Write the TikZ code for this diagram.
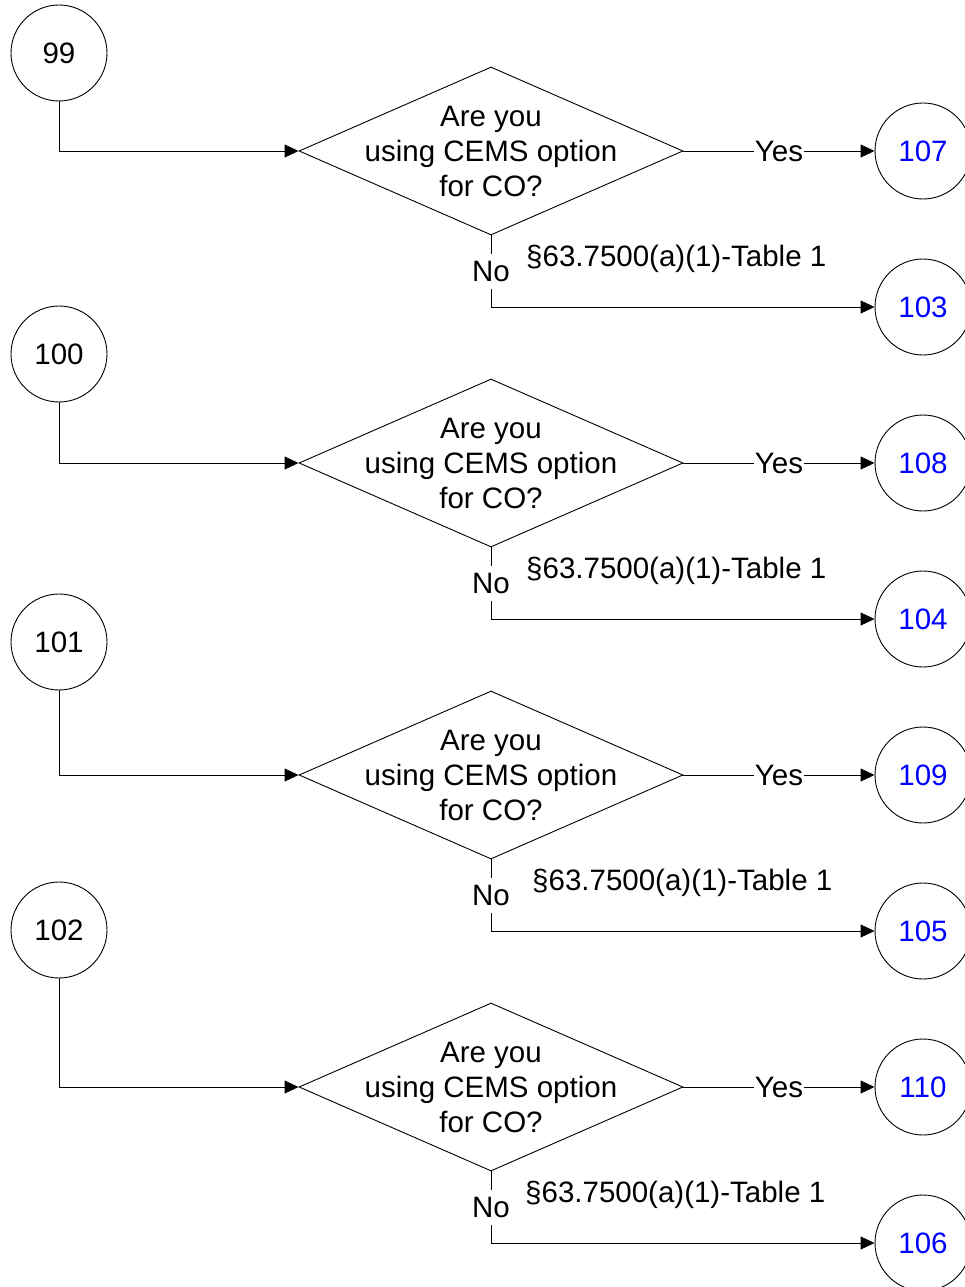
\documentclass[tikz,border=0pt]{standalone}
\usepackage{fontspec}
\setmainfont{Liberation Sans}
\usetikzlibrary{shapes.geometric,arrows.meta}
\begin{document}
\begin{tikzpicture}[x=1pt,y=-1pt,
  every node/.style={font=\fontsize{29.5}{35}\selectfont},
  conn/.style={circle,draw,line width=0.9pt,minimum size=96pt,inner sep=0pt},
  outconn/.style={conn,text=blue},
  decision/.style={diamond,draw,line width=0.9pt,minimum width=384pt,minimum height=168pt,inner sep=0pt},
  qtext/.style={align=center,inner sep=0pt},
  arr/.style={line width=0.9pt,-{Triangle[length=14pt,width=13pt]}},
  ylab/.style={fill=white,inner xsep=0.5pt,inner ysep=2pt},
  nlab/.style={fill=white,inner xsep=2pt,inner ysep=7pt},
  reflab/.style={anchor=west,inner sep=0pt}]
\useasboundingbox (0,0) rectangle (964,1287);

% ---- block 1
\node[conn] (c99) at (59,53) {99};
\node[decision] (d1) at (491,151) {};
\node[qtext] (q1) at (d1.center) {Are you\\using CEMS option\\for CO?};
\node[outconn] (c107) at (923,151) {107};
\node[outconn] (c103) at (923,307) {103};
\node[reflab] (r1) at (526,259) {§63.7500(a)(1)-Table 1};
\draw[arr] (c99.south) |- (d1.west);
\draw[arr] (d1.east) -- node[ylab] (y1) {Yes} (c107.west);
\draw[arr] (d1.south) |- node[pos=0.25,nlab] (n1) {No} (c103.west);

% ---- block 2
\node[conn] (c100) at (59,354) {100};
\node[decision] (d2) at (491,463) {};
\node[qtext] (q2) at (d2.center) {Are you\\using CEMS option\\for CO?};
\node[outconn] (c108) at (923,463) {108};
\node[outconn] (c104) at (923,619) {104};
\node[reflab] (r2) at (526,571) {§63.7500(a)(1)-Table 1};
\draw[arr] (c100.south) |- (d2.west);
\draw[arr] (d2.east) -- node[ylab] (y2) {Yes} (c108.west);
\draw[arr] (d2.south) |- node[pos=0.25,nlab] (n2) {No} (c104.west);

% ---- block 3
\node[conn] (c101) at (59,642) {101};
\node[decision] (d3) at (491,775) {};
\node[qtext] (q3) at (d3.center) {Are you\\using CEMS option\\for CO?};
\node[outconn] (c109) at (923,775) {109};
\node[outconn] (c105) at (923,931) {105};
\node[reflab] (r3) at (532,883) {§63.7500(a)(1)-Table 1};
\draw[arr] (c101.south) |- (d3.west);
\draw[arr] (d3.east) -- node[ylab] (y3) {Yes} (c109.west);
\draw[arr] (d3.south) |- node[pos=0.25,nlab] (n3) {No} (c105.west);

% ---- block 4
\node[conn] (c102) at (59,930) {102};
\node[decision] (d4) at (491,1087) {};
\node[qtext] (q4) at (d4.center) {Are you\\using CEMS option\\for CO?};
\node[outconn] (c110) at (923,1087) {110};
\node[outconn] (c106) at (923,1243) {106};
\node[reflab] (r4) at (525,1195) {§63.7500(a)(1)-Table 1};
\draw[arr] (c102.south) |- (d4.west);
\draw[arr] (d4.east) -- node[ylab] (y4) {Yes} (c110.west);
\draw[arr] (d4.south) |- node[pos=0.25,nlab] (n4) {No} (c106.west);
\end{tikzpicture}
\end{document}
